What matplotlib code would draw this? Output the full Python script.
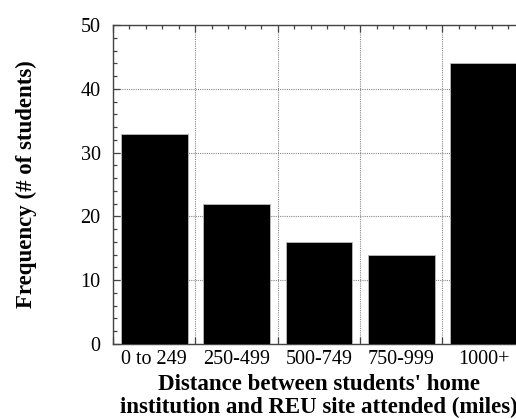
import matplotlib
matplotlib.use("Agg")
import matplotlib.pyplot as plt
import matplotlib.transforms as mtransforms
import numpy as np

# distance bins and number of students in each
categories = ['0 to 249', '250-499', '500-749', '750-999', '1000+']
counts = [33, 22, 16, 14, 44]

plt.rcParams['font.family'] = ['Liberation Serif', 'DejaVu Serif']

fig = plt.figure(figsize=(5.16, 4.19), dpi=100)
ax = fig.add_axes([0.219, 0.179, 0.798, 0.761])

x = np.arange(len(categories))
ax.bar(x, counts, width=0.81, color='black', edgecolor='#bbbbbb', linewidth=0.6, zorder=3)

ax.set_xlim(-0.5, len(categories) - 0.5)
ax.set_ylim(0, 50)

# boundaries between bins carry the major ticks and vertical grid
bounds = np.arange(len(categories) + 1) - 0.5
ax.set_xticks(bounds)
ax.set_xticklabels([''] * len(bounds))
ax.set_xticks(np.arange(-0.5, len(categories) - 0.5 + 1e-6, 0.2), minor=True)
ax.set_yticks(np.arange(0, 51, 10))
ax.set_yticks(np.arange(0, 51, 2), minor=True)

ax.tick_params(which='both', direction='in', top=True, right=True, color='#444444')
ax.tick_params(which='major', length=5, width=0.9)
ax.tick_params(which='minor', length=3, width=0.9)
ax.tick_params(axis='y', labelsize=14.5, pad=9)

ax.grid(True, which='major', linestyle=(0, (1, 1)), color='#888888', linewidth=0.8, zorder=0)
ax.set_axisbelow(True)

for s in ax.spines.values():
    s.set_color('#444444')
    s.set_linewidth(1.0)

# category labels under bar centres
trans = mtransforms.blended_transform_factory(ax.transData, ax.transAxes)
for xi, lab in zip(x, categories):
    ax.text(xi, -0.02, lab, transform=trans, ha='center', va='top', fontsize=14.5)

ax.set_xlabel("Distance between students' home\ninstitution and REU site attended (miles)",
              fontsize=16.5, fontweight='bold', labelpad=18, linespacing=1.12)
ax.set_ylabel('Frequency (# of students)', fontsize=16.5, fontweight='bold', labelpad=31)

fig.savefig('out.png', dpi=100)
